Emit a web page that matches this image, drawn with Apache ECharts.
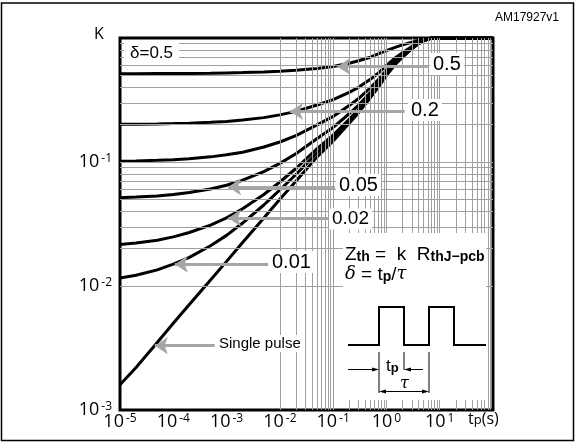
<!DOCTYPE html>
<html><head><meta charset="utf-8">
<script src="https://cdn.jsdelivr.net/npm/echarts@6/dist/echarts.min.js"></script>
<style>html,body{margin:0;padding:0;background:#fff}#c{width:576px;height:443px}</style>
</head><body><div id="c"></div>
<script>
// pulse duration tp (s)
const tp = [1e-5, 2e-5, 5e-5, 1e-4, 2e-4, 5e-4, 1e-3, 2e-3, 5e-3, 1e-2, 2e-2, 5e-2, 0.1, 0.2, 0.3, 0.5, 0.7, 1, 1.5, 2, 3, 4, 5, 7, 100];
// K values, one array per duty cycle
const kD050 = [0.516, 0.516, 0.517, 0.517, 0.518, 0.52, 0.523, 0.526, 0.532, 0.539, 0.549, 0.568, 0.59, 0.625, 0.655, 0.70, 0.745, 0.79, 0.845, 0.88, 0.925, 0.955, 0.975, 1.0, 1.0];
const kD020 = [0.2013, 0.2018, 0.2028, 0.204, 0.2057, 0.209, 0.2126, 0.218, 0.228, 0.24, 0.256, 0.288, 0.318, 0.364, 0.40, 0.464, 0.52, 0.60, 0.696, 0.76, 0.856, 0.92, 0.96, 1.0, 1.0];
const kD010 = [0.1014, 0.102, 0.1032, 0.1045, 0.1064, 0.110, 0.1142, 0.120, 0.132, 0.145, 0.163, 0.199, 0.233, 0.285, 0.325, 0.397, 0.46, 0.55, 0.658, 0.73, 0.838, 0.91, 0.955, 1.0, 1.0];
const kD005 = [0.0515, 0.0521, 0.0533, 0.0548, 0.0567, 0.0606, 0.065, 0.0713, 0.0836, 0.0975, 0.1165, 0.1545, 0.19, 0.245, 0.288, 0.364, 0.43, 0.525, 0.639, 0.715, 0.829, 0.905, 0.953, 1.0, 1.0];
const kD002 = [0.0216, 0.0222, 0.0234, 0.0249, 0.027, 0.031, 0.0355, 0.042, 0.0547, 0.069, 0.0886, 0.128, 0.165, 0.221, 0.265, 0.343, 0.412, 0.51, 0.628, 0.706, 0.824, 0.902, 0.951, 1.0, 1.0];
const kD001 = [0.0116, 0.0122, 0.0135, 0.015, 0.017, 0.0211, 0.0256, 0.0322, 0.045, 0.0595, 0.0793, 0.119, 0.156, 0.213, 0.258, 0.337, 0.406, 0.505, 0.624, 0.703, 0.822, 0.901, 0.95, 1.0, 1.0];
const kSingle = [0.0016, 0.0022, 0.0035, 0.005, 0.0071, 0.0112, 0.0158, 0.0224, 0.0354, 0.05, 0.07, 0.11, 0.148, 0.205, 0.25, 0.33, 0.40, 0.50, 0.62, 0.70, 0.82, 0.90, 0.95, 1.0, 1.0];

// curve labels: text, arrow tip tp, K at arrow, tp where arrow meets label
const labelNames = ['0.5', '0.2', '0.05', '0.02', '0.01', 'Single pulse'];
const arrowTipT = [0.12, 0.0155, 1.07e-3, 1.07e-3, 1.07e-4, 4.5e-5];
const arrowK    = [0.59, 0.256, 0.063, 0.0353, 0.015, 0.0033];
const arrowEndT = [6.0, 2.2, 0.108, 0.08, 6e-3, 6e-4];

// axis tick exponents (labels 10^n)
const xTickExp = [-5, -4, -3, -2, -1, 0, 1];
const yTickExp = [-3, -2, -1];

const chart = echarts.init(document.getElementById('c'), null, {renderer: 'canvas'});

function pairs(k) { return tp.map((t, i) => [t, k[i]]); }

// log grid lines (2..9 x each decade), drawn through axis scale
const gridLines = [];
for (let e = -5; e <= 1; e++) {
  for (let m = 1; m <= 9; m++) {
    const v = m * Math.pow(10, e);
    if (v > 1e-5 * 1.0001 && v < 100 * 0.9999) gridLines.push({xAxis: v});
  }
}
for (let e = -3; e <= -1; e++) {
  for (let m = 1; m <= 9; m++) {
    const v = m * Math.pow(10, e);
    if (v > 1e-3 * 1.0001 && v < 0.9999) gridLines.push({yAxis: v});
  }
}

const arrowData = labelNames.map((n, i) => [
  {coord: [arrowTipT[i], arrowK[i]]},
  {coord: [arrowEndT[i], arrowK[i]]}
]);

const tickFont = 'Open Sans';
const supRich = {
  b: {fontSize: 18, fontFamily: tickFont, color: '#000'},
  s: {fontSize: 12, fontFamily: tickFont, color: '#000', verticalAlign: 'top', padding: [0, 0, 0, 2]}
};
function expLabel(v, hideList) {
  const e = Math.round(Math.log10(v));
  if (hideList.indexOf(e) >= 0) return '';
  return '{b|10}{s|' + e + '}';
}

const curveStyle = {color: '#000', width: 3};
function curve(name, k) {
  return {
    name: name, type: 'line', data: pairs(k), smooth: false,
    showSymbol: false, lineStyle: curveStyle, z: 3, silent: true, clip: true
  };
}

const labelFont = 'Liberation Sans';
const labelPos = [[430, 65], [408, 111], [336, 186], [329, 220], [269, 263], [216, 344]];
const labelSize = [20, 20, 20, 19, 20, 15];
const labelGraphics = labelNames.map((n, i) => ({
  type: 'text', left: labelPos[i][0], top: labelPos[i][1] - labelSize[i] * 0.6, z: 100,
  style: {text: n, fontSize: labelSize[i], fontFamily: labelFont, fill: '#000',
          backgroundColor: '#fff', padding: [1, 3, 1, 3]}
}));

const option = {
  animation: false,
  backgroundColor: '#fff',
  grid: {left: 120, top: 38, right: 83, bottom: 33, show: true, borderColor: '#000',
         borderWidth: 3, backgroundColor: '#fff', containLabel: false, outerBoundsMode: 'none'},
  xAxis: {
    type: 'log', logBase: 10, min: 1e-5, max: 100, splitNumber: 7,
    axisLine: {show: false}, axisTick: {show: false}, splitLine: {show: false},
    axisLabel: {margin: 3, formatter: v => expLabel(v, [2]), rich: supRich}
  },
  yAxis: {
    type: 'log', logBase: 10, min: 1e-3, max: 1, splitNumber: 3,
    axisLine: {show: false}, axisTick: {show: false}, splitLine: {show: false},
    axisLabel: {margin: 8, formatter: v => expLabel(v, [0]), rich: supRich}
  },
  series: [
    {type: 'line', data: [], z: 1, silent: true,
     markLine: {silent: true, symbol: ['none', 'none'], label: {show: false},
                lineStyle: {color: '#a0a0a0', width: 1, type: 'solid'}, data: gridLines, animation: false}},
    curve('0.5', kD050), curve('0.2', kD020), curve('0.1', kD010), curve('0.05', kD005),
    curve('0.02', kD002), curve('0.01', kD001), curve('Single pulse', kSingle),
    {type: 'line', data: [], z: 4, silent: true,
     markLine: {silent: true, symbol: ['arrow', 'none'], symbolSize: 13, label: {show: false},
                lineStyle: {color: '#a6a6a6', width: 3, type: 'solid'},
                itemStyle: {color: '#a6a6a6'}, data: arrowData, animation: false}}
  ],
  graphic: [
    {type: 'rect', z: 50, shape: {x: 1.5, y: 3, width: 572, height: 437.5},
     style: {fill: 'none', stroke: '#000', lineWidth: 1.5}},
    {type: 'text', z: 100, left: 495, top: 12,
     style: {text: 'AM17927v1', fontSize: 12, fontFamily: labelFont, fill: '#000'}},
    {type: 'text', z: 100, left: 94, top: 26,
     style: {text: 'K', fontSize: 16, fontFamily: tickFont, fill: '#000'}},
    {type: 'text', z: 100, left: 468, top: 411,
     style: {text: '{t|t}{p|p}{t|(s)}', rich: {
       t: {fontSize: 16, fontFamily: tickFont, fill: '#000'},
       p: {fontSize: 13, fontFamily: tickFont, fill: '#000', verticalAlign: 'bottom'}}}},
    // inset
    {type: 'rect', z: 60, shape: {x: 343, y: 233, width: 143, height: 167}, style: {fill: '#fff'}},
    {type: 'text', z: 100, left: 345, top: 245,
     style: {text: '{a|Z}{s|th}{a| =  k  R}{s|thJ\u2212pcb}', rich: {
       a: {fontSize: 19, fontFamily: labelFont, fill: '#000'},
       s: {fontSize: 14, fontWeight: 'bold', fontFamily: labelFont, fill: '#000', verticalAlign: 'bottom'}}}},
    {type: 'text', z: 100, left: 345, top: 265,
     style: {text: '{i|\u03b4}{a| = t}{s|p}{a|/}{i|\u03c4}', rich: {
       a: {fontSize: 19, fontFamily: labelFont, fill: '#000'},
       i: {fontSize: 18, fontFamily: 'DejaVu Serif', fontStyle: 'italic', fill: '#000'},
       s: {fontSize: 14, fontWeight: 'bold', fontFamily: labelFont, fill: '#000', verticalAlign: 'bottom'}}}},
    {type: 'polyline', z: 100, shape: {points: [[348,345],[379,345],[379,307],[404,307],[404,345],[429,345],[429,307],[454,307],[454,345],[486,345]]},
     style: {stroke: '#000', lineWidth: 2, fill: 'none'}},
    {type: 'line', z: 100, shape: {x1: 379, y1: 352, x2: 379, y2: 393}, style: {stroke: '#000', lineWidth: 1}},
    {type: 'line', z: 100, shape: {x1: 404, y1: 352, x2: 404, y2: 370}, style: {stroke: '#000', lineWidth: 1}},
    {type: 'line', z: 100, shape: {x1: 429, y1: 352, x2: 429, y2: 393}, style: {stroke: '#000', lineWidth: 1}},
    {type: 'line', z: 100, shape: {x1: 348, y1: 369.5, x2: 375, y2: 369.5}, style: {stroke: '#000', lineWidth: 1}},
    {type: 'polygon', z: 100, shape: {points: [[379,369.5],[372,367.5],[372,371.5]]}, style: {fill: '#000'}},
    {type: 'line', z: 100, shape: {x1: 408, y1: 369.5, x2: 423, y2: 369.5}, style: {stroke: '#000', lineWidth: 1}},
    {type: 'polygon', z: 100, shape: {points: [[404,369.5],[411,367.5],[411,371.5]]}, style: {fill: '#000'}},
    {type: 'line', z: 100, shape: {x1: 382, y1: 391.5, x2: 426, y2: 391.5}, style: {stroke: '#000', lineWidth: 1}},
    {type: 'polygon', z: 100, shape: {points: [[379,391.5],[386,389.5],[386,393.5]]}, style: {fill: '#000'}},
    {type: 'polygon', z: 100, shape: {points: [[429,391.5],[422,389.5],[422,393.5]]}, style: {fill: '#000'}},
    {type: 'text', z: 100, left: 386, top: 358,
     style: {text: '{a|t}{s|p}', rich: {
       a: {fontSize: 17, fontFamily: labelFont, fill: '#000'},
       s: {fontSize: 13, fontWeight: 'bold', fontFamily: labelFont, fill: '#000', verticalAlign: 'bottom'}}}},
    {type: 'text', z: 100, left: 400, top: 376,
     style: {text: '\u03c4', fontSize: 16, fontFamily: 'DejaVu Serif', fontStyle: 'italic', fill: '#000'}},
    {type: 'text', z: 100, left: 124, top: 43,
     style: {text: '\u03b4=0.5', fontSize: 17, fontFamily: labelFont, fill: '#000',
             backgroundColor: '#fff', padding: [2, 6, 2, 6]}}
  ].concat(labelGraphics)
};
chart.setOption(option);
</script>
</body></html>
